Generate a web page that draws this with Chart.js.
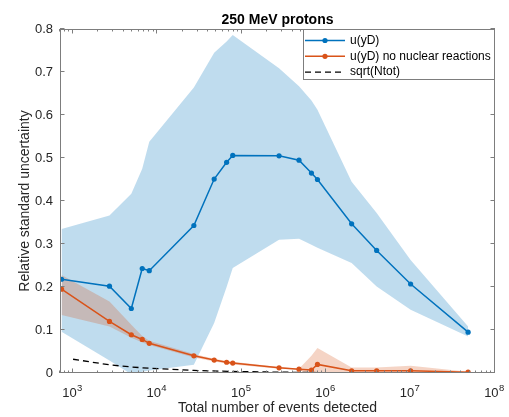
<!DOCTYPE html>
<html><head><meta charset="utf-8">
<script src="https://cdn.jsdelivr.net/npm/chart.js@4.4.1/dist/chart.umd.min.js"></script>
<style>html,body{margin:0;padding:0;background:#fff;}</style>
</head><body>
<canvas id="c" width="509" height="417"></canvas>
<script>
// ---- data ----
const eventsDetected = [730, 2700, 4900, 6600, 8000, 27000, 47000, 66000, 78000, 276000, 476000, 668000, 787000, 2.0e6, 3.96e6, 1.0e7, 4.8e7];
const uYD      = [0.218, 0.202, 0.150, 0.243, 0.238, 0.343, 0.451, 0.490, 0.506, 0.505, 0.495, 0.465, 0.450, 0.347, 0.285, 0.207, 0.095];
const uYDUpper = [0.335, 0.366, 0.417, 0.475, 0.538, 0.664, 0.745, 0.771, 0.786, 0.709, 0.667, 0.634, 0.612, 0.445, 0.372, 0.263, 0.108];
const uYDLower = [0.096, 0.029, -0.003, 0.003, 0.006, 0.019, 0.116, 0.200, 0.244, 0.310, 0.312, 0.298, 0.291, 0.256, 0.201, 0.147, 0.085];
const uNoNuc      = [0.195, 0.120, 0.089, 0.078, 0.069, 0.040, 0.030, 0.025, 0.023, 0.012, 0.009, 0.007, 0.020, 0.005, 0.005, 0.005, 0.002];
const uNoNucUpper = [0.228, 0.166, 0.112, 0.086, 0.075, 0.044, 0.033, 0.028, 0.026, 0.014, 0.010, 0.040, 0.058, 0.013, 0.013, 0.017, 0.003];
const uNoNucLower = [0.135, 0.108, 0.082, 0.071, 0.065, 0.036, 0.027, 0.022, 0.020, 0.010, 0.008, -0.010, -0.018, -0.003, -0.003, -0.007, 0.001];
const sqrtEvents = [1000, 2700, 4900, 8000, 27000, 78000, 276000, 787000, 2.0e6, 1.0e7, 4.8e7];
const sqrtValues = [0.032, 0.019, 0.014, 0.011, 0.006, 0.0036, 0.0019, 0.0011, 0.0007, 0.0003, 0.00014];
const yTickValues = [0, 0.1, 0.2, 0.3, 0.4, 0.5, 0.6, 0.7, 0.8];
const yTickLabels = ['0', '0.1', '0.2', '0.3', '0.4', '0.5', '0.6', '0.7', '0.8'];
const xTickExponents = [3, 4, 5, 6, 7, 8];
const titleText = '250 MeV protons';
const xTitle = 'Total number of events detected';
const yTitle = 'Relative standard uncertainty';

// ---- styles ----
const BLUE = 'rgb(0,114,189)', ORANGE = 'rgb(217,83,25)';
const FONT = '"Liberation Sans", Arial, Helvetica, sans-serif';
const TXT = 'rgb(38,38,38)';
const AXC = 'rgb(125,125,125)';
const pts = (xs, ys) => xs.map((x, i) => ({x: x, y: ys[i]}));
const legendIdx = [4, 5, 6];

const framePlugin = {
  id: 'frame',
  afterDatasetsDraw(chart) {
    const {ctx, chartArea: a, scales: {x, y}} = chart;
    ctx.save();
    ctx.strokeStyle = AXC; ctx.lineWidth = 1; ctx.setLineDash([]);
    ctx.beginPath();
    const L = 4.5, l = 2.5;
    for (const e of xTickExponents) {
      const px = Math.round(x.getPixelForValue(Math.pow(10, e))) - 0.5;
      ctx.moveTo(px, a.bottom); ctx.lineTo(px, a.bottom - L);
      ctx.moveTo(px, a.top); ctx.lineTo(px, a.top + L);
    }
    for (let e = 2; e <= 7; e++) for (let m = 2; m <= 9; m++) {
      const v = m * Math.pow(10, e);
      if (v < x.min || v > x.max) continue;
      const px = Math.round(x.getPixelForValue(v)) - 0.5;
      ctx.moveTo(px, a.bottom); ctx.lineTo(px, a.bottom - l);
      ctx.moveTo(px, a.top); ctx.lineTo(px, a.top + l);
    }
    for (const v of yTickValues) {
      const py = Math.round(y.getPixelForValue(v)) - 0.5;
      ctx.moveTo(a.left, py); ctx.lineTo(a.left + L, py);
      ctx.moveTo(a.right, py); ctx.lineTo(a.right - L, py);
    }
    ctx.stroke();
    ctx.strokeRect(a.left + 0.5, a.top + 0.5, a.right - a.left - 1, a.bottom - a.top - 1);
    ctx.restore();
  },
  afterDraw(chart) {
    const {ctx, chartArea: a, scales: {x}} = chart;
    ctx.save();
    // x tick labels 10^n
    ctx.fillStyle = TXT; ctx.textAlign = 'left'; ctx.textBaseline = 'alphabetic';
    for (const e of xTickExponents) {
      const px = x.getPixelForValue(Math.pow(10, e));
      ctx.font = '13px ' + FONT; const w1 = ctx.measureText('10').width;
      ctx.font = '9.5px ' + FONT; const w2 = ctx.measureText(String(e)).width;
      const sx = px - (w1 + w2) / 2 - 1;
      ctx.font = '13px ' + FONT; ctx.fillText('10', sx, 397);
      ctx.font = '9.5px ' + FONT; ctx.fillText(String(e), sx + w1 + 0.3, 390.5);
    }
    // title
    ctx.fillStyle = '#000'; ctx.textAlign = 'center';
    ctx.font = 'bold 14px ' + FONT;
    ctx.fillText(titleText, (a.left + a.right) / 2, 23.5);
    // legend
    const lx = 303, ly = a.top, lw = a.right - 303, lh = 51;
    ctx.fillStyle = '#fff'; ctx.fillRect(lx, ly, lw, lh);
    ctx.strokeStyle = AXC; ctx.lineWidth = 1;
    ctx.strokeRect(lx + 0.5, ly + 0.5, lw - 1, lh - 1);
    legendIdx.forEach((di, r) => {
      const ds = chart.data.datasets[di];
      const cy = 40.5 + r * 15.8;
      ctx.strokeStyle = ds.borderColor; ctx.lineWidth = ds.borderWidth;
      ctx.setLineDash(ds.borderDash || []);
      ctx.beginPath(); ctx.moveTo(305, cy); ctx.lineTo(345, cy); ctx.stroke();
      ctx.setLineDash([]);
      if (ds.pointRadius > 0) {
        ctx.fillStyle = ds.backgroundColor;
        ctx.beginPath(); ctx.arc(325, cy, ds.pointRadius, 0, Math.PI * 2); ctx.fill();
      }
      ctx.fillStyle = '#000'; ctx.textAlign = 'left'; ctx.textBaseline = 'middle';
      ctx.font = '12px ' + FONT;
      ctx.fillText(ds.label, 350, cy);
    });
    ctx.restore();
  }
};

new Chart(document.getElementById('c').getContext('2d'), {
  type: 'line',
  data: {
    datasets: [
      {label: 'u(yD) band upper', data: pts(eventsDetected, uYDUpper), borderWidth: 0, borderColor: 'rgba(0,0,0,0)', pointRadius: 0, backgroundColor: 'rgba(0,114,189,0.25)', fill: 1, order: 6},
      {label: 'u(yD) band lower', data: pts(eventsDetected, uYDLower), borderWidth: 0, borderColor: 'rgba(0,0,0,0)', pointRadius: 0, fill: false, order: 6},
      {label: 'no nuclear band upper', data: pts(eventsDetected, uNoNucUpper), borderWidth: 0, borderColor: 'rgba(0,0,0,0)', pointRadius: 0, backgroundColor: 'rgba(217,83,25,0.25)', fill: 3, order: 5},
      {label: 'no nuclear band lower', data: pts(eventsDetected, uNoNucLower), borderWidth: 0, borderColor: 'rgba(0,0,0,0)', pointRadius: 0, fill: false, order: 5},
      {label: 'u(yD)', data: pts(eventsDetected, uYD), borderColor: BLUE, backgroundColor: BLUE, borderWidth: 1.5, pointRadius: 2.6, pointBorderWidth: 0, fill: false, order: 1},
      {label: 'u(yD) no nuclear reactions', data: pts(eventsDetected, uNoNuc), borderColor: ORANGE, backgroundColor: ORANGE, borderWidth: 1.5, pointRadius: 2.6, pointBorderWidth: 0, fill: false, order: 0},
      {label: 'sqrt(Ntot)', data: pts(sqrtEvents, sqrtValues), borderColor: '#000', backgroundColor: '#000', borderWidth: 1.3, borderDash: [6, 4], pointRadius: 0, fill: false, order: 2}
    ]
  },
  options: {
    responsive: false, animation: false, devicePixelRatio: 1,
    layout: {padding: {top: 29, right: 14, bottom: 0, left: 0}},
    elements: {line: {tension: 0}},
    plugins: {legend: {display: false}, title: {display: false}, tooltip: {enabled: false}},
    scales: {
      x: {
        type: 'logarithmic', position: 'bottom', min: 700, max: 1e8,
        grid: {display: false, drawTicks: false}, border: {display: false},
        ticks: {display: false},
        title: {display: true, text: xTitle, color: TXT, font: {family: FONT, size: 14}, padding: {top: 0, bottom: 0}},
        afterFit(s) { s.height = 44; }
      },
      y: {
        type: 'linear', min: 0, max: 0.8,
        grid: {display: false, drawTicks: false}, border: {display: false},
        ticks: {stepSize: 0.1, padding: 7, color: TXT, font: {family: FONT, size: 13}, callback: (v, i) => yTickLabels[i]},
        title: {display: true, text: yTitle, color: TXT, font: {family: FONT, size: 14}, padding: {top: 16.6, bottom: 0}},
        afterFit(s) { s.width = 60; }
      }
    }
  },
  plugins: [framePlugin]
});
</script>
</body></html>
